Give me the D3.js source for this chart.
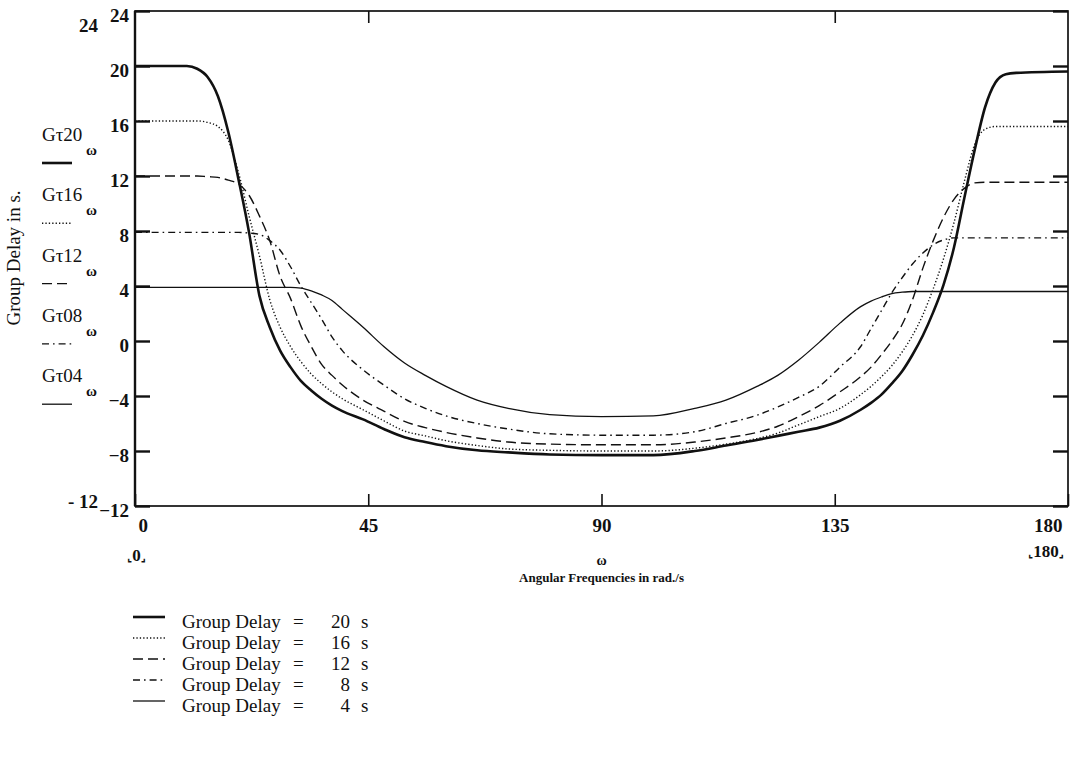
<!DOCTYPE html>
<html>
<head>
<meta charset="utf-8">
<script src="https://cdn.jsdelivr.net/npm/d3@7"></script>
<style>
  body { margin: 0; background: #fff; }
  text { font-family: "Liberation Serif", "Times New Roman", serif; fill: #111; }
</style>
</head>
<body>
<div class="chart"></div>
<script>
// angular frequency samples (rad/s) and group delay values
const omega = [0,10,12,14,16,18,20,22,24,26,28,30,32,34,36,38,40,44,48,52,56,60,66,72,80,90,
  100,108,114,120,124,128,132,136,140,142,144,146,148,150,152,154,156,158,160,162,164,166,168,170,180];

const gd20 = [20,20,19.8,19.2,17.8,15.2,11.7,7.9,3.3,1.0,-0.7,-1.9,-2.9,-3.6,-4.2,-4.7,-5.1,-5.7,-6.4,-7.0,
  -7.35,-7.65,-7.95,-8.1,-8.25,-8.3,-8.3,-8.0,-7.6,-7.2,-6.9,-6.6,-6.3,-5.8,-5.0,-4.5,-3.9,-3.1,-2.2,-1.0,
  0.4,2.1,4.1,6.8,10.4,13.9,17.0,18.8,19.4,19.5,19.6];
const gd16 = [16,16,16,15.9,15.6,14.6,12.2,9.1,6.2,3.0,1.0,-0.4,-1.5,-2.4,-3.1,-3.7,-4.2,-5.0,-5.8,-6.55,
  -6.9,-7.25,-7.6,-7.85,-7.95,-8.0,-8.0,-7.8,-7.5,-7.1,-6.7,-6.1,-5.5,-4.9,-3.9,-3.3,-2.6,-1.8,-0.8,0.4,
  1.9,3.8,6.0,8.6,11.6,14.3,15.4,15.6,15.6,15.6,15.6];
const gd12 = [12,12,12,11.95,11.9,11.7,11.4,10.6,9.1,7.3,4.7,3.1,1.1,-0.4,-1.7,-2.5,-3.2,-4.3,-5.1,-5.85,
  -6.3,-6.65,-7.05,-7.35,-7.5,-7.55,-7.55,-7.35,-7.05,-6.65,-6.2,-5.5,-4.7,-3.7,-2.6,-1.9,-1.0,0.0,1.2,3.0,
  5.3,7.3,9.0,10.3,11.1,11.5,11.55,11.55,11.55,11.55,11.55];
const gd08 = [7.9,7.9,7.9,7.9,7.9,7.9,7.9,7.85,7.75,7.3,6.6,5.4,4.0,2.8,1.6,0.3,-0.7,-2.1,-3.2,-4.2,
  -4.9,-5.45,-6.0,-6.4,-6.75,-6.85,-6.85,-6.6,-6.0,-5.4,-4.8,-4.1,-3.3,-1.9,-0.4,0.9,2.2,3.5,4.6,5.6,
  6.4,7.0,7.35,7.5,7.5,7.5,7.5,7.5,7.5,7.5,7.5];
const gd04 = [3.9,3.9,3.9,3.9,3.9,3.9,3.9,3.9,3.9,3.9,3.9,3.9,3.85,3.65,3.35,2.95,2.3,1.0,-0.4,-1.6,
  -2.5,-3.3,-4.3,-4.9,-5.35,-5.5,-5.45,-4.9,-4.3,-3.3,-2.5,-1.4,-0.1,1.3,2.5,2.9,3.2,3.45,3.55,3.6,
  3.6,3.6,3.6,3.6,3.6,3.6,3.6,3.6,3.6,3.6,3.6];

const yTicks = [-12,-8,-4,0,4,8,12,16,20,24];
const xTicks = [0,45,90,135,180];
const topTicks = [45,135];
const seriesNames = ["Gτ20","Gτ16","Gτ12","Gτ08","Gτ04"];
const legendValues = ["20","16","12","8","4"];

const width = 1083, height = 758;
const margin = {top: 11, left: 135, right: 15, bottom: 252};

// line styles per series: thick, dotted, dashed, dash-dot, thin
const styles = [
  {w: 2.6, dash: null},
  {w: 1.4, dash: "1.3,2.1"},
  {w: 1.4, dash: "10,5"},
  {w: 1.4, dash: "7,4,1.6,4"},
  {w: 1.3, dash: null}
];
const series = [gd20, gd16, gd12, gd08, gd04];

const svg = d3.select('.chart').append('svg')
  .attr('width', width).attr('height', height);

const x = d3.scaleLinear().domain([0,180]).range([margin.left, width - margin.right]);
const y = d3.scaleLinear().domain([-12,24]).range([height - margin.bottom, margin.top]);

const fmt = d3.format("d");

// left axis, ticks pointing inwards
const yAxis = svg.append('g')
  .attr('transform', `translate(${margin.left},0)`)
  .call(d3.axisLeft(y).tickValues(yTicks).tickSize(-15).tickPadding(6).tickFormat(fmt));
yAxis.select('.domain').remove();
yAxis.selectAll('.tick line').attr('stroke', '#111').attr('stroke-width', 2.4);
yAxis.selectAll('.tick text')
  .attr('font-size', 19).attr('font-weight', 'bold')
  .attr('font-family', '"Liberation Serif", serif')
  .attr('y', 4);

// right side ticks
const yRight = svg.append('g')
  .attr('transform', `translate(${width - margin.right},0)`)
  .call(d3.axisRight(y).tickValues(yTicks).tickSize(-15).tickFormat(''));
yRight.select('.domain').remove();
yRight.selectAll('.tick line').attr('stroke', '#111').attr('stroke-width', 2.4);

// bottom axis
const xAxis = svg.append('g')
  .attr('transform', `translate(0,${height - margin.bottom})`)
  .call(d3.axisBottom(x).tickValues(xTicks).tickSize(-12).tickPadding(13).tickFormat(fmt));
xAxis.select('.domain').remove();
xAxis.selectAll('.tick line').attr('stroke', '#111').attr('stroke-width', 1.6);
xAxis.selectAll('.tick text')
  .attr('font-size', 19).attr('font-weight', 'bold')
  .attr('font-family', '"Liberation Serif", serif')
  .attr('text-anchor', d => d === 0 ? 'start' : d === 180 ? 'end' : 'middle')
  .attr('x', d => d === 0 ? 3 : d === 180 ? -6 : 0);

// top ticks
const xTop = svg.append('g')
  .attr('transform', `translate(0,${margin.top})`)
  .call(d3.axisTop(x).tickValues(topTicks).tickSize(-12).tickFormat(''));
xTop.select('.domain').remove();
xTop.selectAll('.tick line').attr('stroke', '#111').attr('stroke-width', 1.6);

// frame
svg.append('rect')
  .attr('x', x(0)).attr('y', y(24))
  .attr('width', x(180) - x(0)).attr('height', y(-12) - y(24))
  .attr('fill', 'none').attr('stroke', '#111').attr('stroke-width', 1.7);
svg.append('line')
  .attr('x1', x(0)).attr('x2', x(0)).attr('y1', y(24)).attr('y2', y(-12))
  .attr('stroke', '#111').attr('stroke-width', 2.4);

// curves
const line = d3.line()
  .x((d, i) => x(omega[i]))
  .y(d => y(d))
  .curve(d3.curveMonotoneX);

svg.append('g').selectAll('path')
  .data(series)
  .join('path')
  .attr('d', line)
  .attr('fill', 'none')
  .attr('stroke', '#111')
  .attr('stroke-width', (d, i) => styles[i].w)
  .attr('stroke-dasharray', (d, i) => styles[i].dash)
  .attr('stroke-linejoin', 'round');

// range limit labels (Mathcad style)
svg.append('text').attr('x', 98).attr('y', 32).attr('text-anchor', 'end')
  .attr('font-size', 19).attr('font-weight', 'bold').text(fmt(yTicks[yTicks.length - 1]));
svg.append('text').attr('x', 98).attr('y', 508).attr('text-anchor', 'end')
  .attr('font-size', 19).attr('font-weight', 'bold').text('- ' + Math.abs(yTicks[0]));

function limitLabel(xp, yp, v) {
  const t = svg.append('text').attr('x', xp).attr('y', yp).attr('font-size', 17).attr('font-weight', 'bold');
  t.append('tspan').attr('font-size', 11).attr('font-family', 'DejaVu Sans').text('⌞');
  t.append('tspan').text(fmt(v));
  t.append('tspan').attr('font-size', 11).attr('font-family', 'DejaVu Sans').text('⌟');
}
limitLabel(127, 561, xTicks[0]);
limitLabel(1028, 557, xTicks[xTicks.length - 1]);

// x axis labels
svg.append('text').attr('x', x(90)).attr('y', 565).attr('text-anchor', 'middle')
  .attr('font-size', 14).attr('font-weight', 'bold').text('ω');
svg.append('text').attr('x', x(90)).attr('y', 582).attr('text-anchor', 'middle')
  .attr('font-size', 13).attr('font-weight', 'bold').text('Angular Frequencies in rad./s');

// y axis label
svg.append('text')
  .attr('transform', 'translate(20,258) rotate(-90)')
  .attr('text-anchor', 'middle').attr('font-size', 19)
  .text('Group Delay in s.');

// left legend (trace names)
const leftLeg = svg.append('g').selectAll('g')
  .data(seriesNames)
  .join('g')
  .attr('transform', (d, i) => `translate(42,${141 + i * 60.3})`);
leftLeg.append('text').attr('font-size', 19).text(d => d);
leftLeg.append('text').attr('x', 44).attr('y', 14).attr('font-size', 15).attr('font-weight', 'bold').text('ω');
leftLeg.append('line')
  .attr('x1', 0).attr('x2', 30).attr('y1', 22).attr('y2', 22)
  .attr('stroke', '#111')
  .attr('stroke-width', (d, i) => styles[i].w)
  .attr('stroke-dasharray', (d, i) => styles[i].dash);

// bottom legend
const botLeg = svg.append('g').selectAll('g')
  .data(legendValues)
  .join('g')
  .attr('transform', (d, i) => `translate(133,${617 + i * 21})`);
botLeg.append('line')
  .attr('x1', 0).attr('x2', 32).attr('y1', 0).attr('y2', 0)
  .attr('stroke', '#111')
  .attr('stroke-width', (d, i) => styles[i].w)
  .attr('stroke-dasharray', (d, i) => styles[i].dash);
const legText = botLeg.append('text').attr('x', 49).attr('y', 11).attr('font-size', 19);
legText.append('tspan').text('Group Delay');
legText.append('tspan').attr('x', 160).text('=');
legText.append('tspan').attr('x', 217).attr('text-anchor', 'end').text(d => d);
legText.append('tspan').attr('x', 228).text('s');
</script>
</body>
</html>
